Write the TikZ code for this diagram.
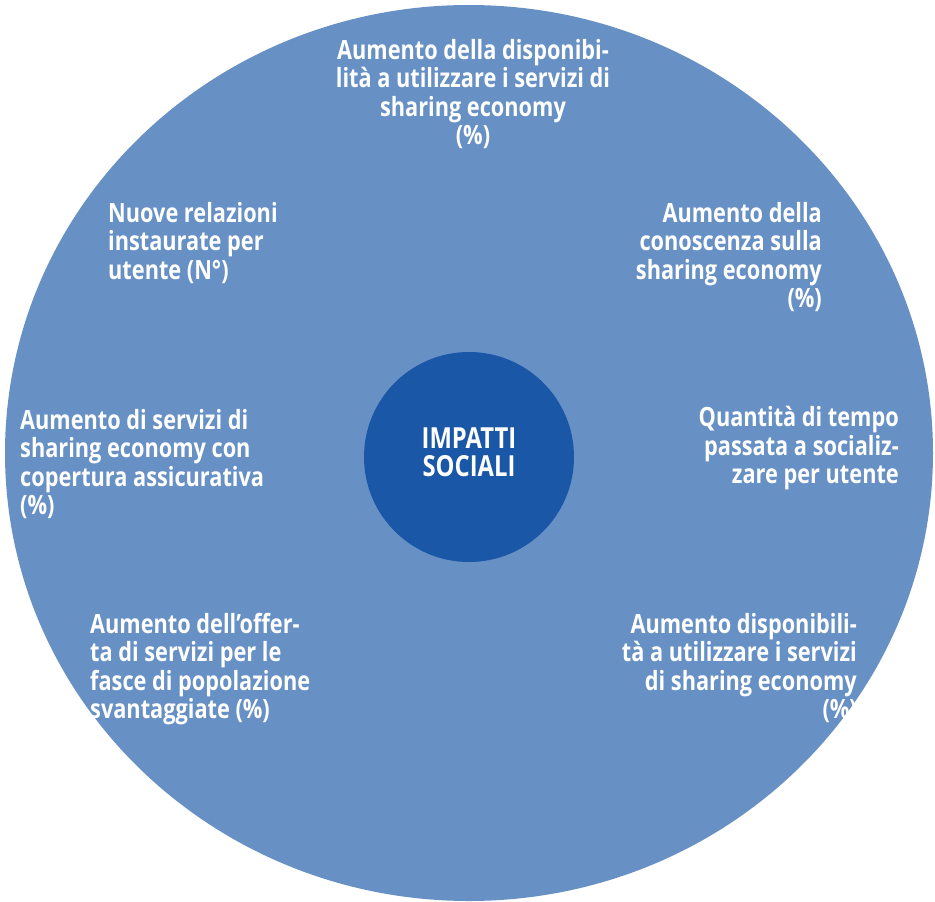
\documentclass[tikz,border=0pt]{standalone}
\usepackage{fontspec}
\setmainfont{Open Sans}[FakeStretch=0.82,BoldFont={* Bold}]
\definecolor{outerblue}{RGB}{103,144,197}
\definecolor{innerblue}{RGB}{26,87,166}
\begin{document}
\begin{tikzpicture}[x=1pt,y=-1pt,
  lbl/.style={text=white,font=\fontsize{26.5}{28.5}\selectfont\bfseries,inner sep=0pt}]
\useasboundingbox (0,0) rectangle (935,902);
\fill[outerblue] (469,453) ellipse [x radius=464, y radius=448];
\node[circle,fill=innerblue,minimum size=210pt,inner sep=0pt] (core) at (469,457) {};
\node[lbl,align=center,font=\fontsize{29}{28.5}\selectfont\bfseries] (title) at (469,452) {IMPATTI\\SOCIALI};
\node[lbl,align=center,anchor=north] (t1) at (473,39) {Aumento della disponibi-\\lità a utilizzare i servizi di\\sharing economy\\(\%)};
\node[lbl,align=left,anchor=north west] (t2) at (108,202) {Nuove relazioni\\instaurate per\\utente (N°)};
\node[lbl,align=right,anchor=north east] (t3) at (822,202) {Aumento della\\conoscenza sulla\\sharing economy\\(\%)};
\node[lbl,align=left,anchor=north west] (t4) at (20,409) {Aumento di servizi di\\sharing economy con\\copertura assicurativa\\(\%)};
\node[lbl,align=right,anchor=north east] (t5) at (899,406) {Quantità di tempo\\passata a socializ-\\zare per utente};
\node[lbl,align=left,anchor=north west] (t6) at (90,613) {Aumento dell’offer-\\ta di servizi per le\\fasce di popolazione\\svantaggiate (\%)};
\node[lbl,align=right,anchor=north east] (t7) at (857,613) {Aumento disponibili-\\tà a utilizzare i servizi\\di sharing economy\\(\%)};
\end{tikzpicture}
\end{document}
